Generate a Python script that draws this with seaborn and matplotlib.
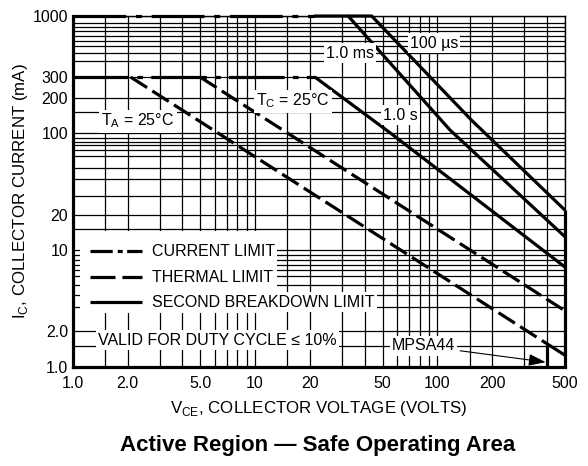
import matplotlib
matplotlib.use("Agg")
import matplotlib.pyplot as plt
import seaborn as sns
import pandas as pd
from matplotlib.patches import Rectangle
from matplotlib.ticker import FixedLocator, FixedFormatter, NullFormatter

sns.set_theme(style="white")
plt.rcParams['font.family'] = ['Liberation Sans', 'DejaVu Sans']
plt.rcParams['mathtext.fontset'] = 'custom'
plt.rcParams['mathtext.rm'] = 'Liberation Sans'
plt.rcParams['lines.scale_dashes'] = False

# ---------------- data ----------------
x_ticks = [1, 2, 5, 10, 20, 50, 100, 200, 500]
x_tick_labels = ["1.0", "2.0", "5.0", "10", "20", "50", "100", "200", "500"]
y_ticks = [1, 2, 10, 20, 100, 200, 300, 1000]
y_tick_labels = ["1.0", "2.0", "10", "20", "100", "200", "300", "1000"]
x_grid = [1.5, 3, 4, 6, 7, 8, 9, 15, 30, 40, 60, 70, 80, 90, 150, 300, 400]
y_grid = [1.5, 3.2, 4.1, 5.0, 5.9, 6.7, 7.4, 8.1, 9.0,
          15, 29, 40, 50, 63, 71, 79, 84, 90,
          150, 410, 480, 550, 610, 670, 740, 810, 880]

current_limit_top_v = [1.0, 21.0]
current_limit_top_i = [1000, 1000]
current_limit_low_v = [1.0, 21.3]
current_limit_low_i = [300, 300]

thermal_ta_v = [2.08, 400]
thermal_ta_i = [300, 1.56]
thermal_ta_tail_v = [400, 500]
thermal_ta_tail_i = [1.56, 1.25]
thermal_tc_v = [5.0, 500]
thermal_tc_i = [300, 3.0]

sb_1s_v = [21.3, 57, 500]
sb_1s_i = [300, 96, 7.1]
sb_1ms_v = [21.0, 32.4, 117, 500]
sb_1ms_i = [1000, 1000, 106, 12.9]
sb_100us_v = [32.4, 43.6, 154, 500]
sb_100us_i = [1000, 1000, 128, 21.8]
mpsa44_v = [400, 400]
mpsa44_i = [1.56, 1.0]
edge_500_v = [500, 500]
edge_500_i = [21.8, 1.0]

# ---------------- figure ----------------
fig = plt.figure(figsize=(5.88, 4.66), dpi=100)
ax = fig.add_axes([0.1236, 0.2135, 0.8372, 0.7521])
ax.set_xscale('log')
ax.set_yscale('log')
ax.set_xlim(1, 500)
ax.set_ylim(1, 1000)
ax.set_facecolor('white')

ax.xaxis.set_major_locator(FixedLocator(x_ticks))
ax.xaxis.set_major_formatter(FixedFormatter(x_tick_labels))
ax.xaxis.set_minor_locator(FixedLocator(x_grid))
ax.xaxis.set_minor_formatter(NullFormatter())
ax.yaxis.set_major_locator(FixedLocator(y_ticks))
ax.yaxis.set_major_formatter(FixedFormatter(y_tick_labels))
ax.yaxis.set_minor_locator(FixedLocator(y_grid))
ax.yaxis.set_minor_formatter(NullFormatter())
ax.tick_params(which='both', length=0)
ax.tick_params(axis='x', pad=6.5, labelsize=11.5, colors='black')
ax.tick_params(axis='y', pad=3.2, labelsize=11.5, colors='black')
ax.set_axisbelow(True)
ax.grid(which='both', color='black', linewidth=0.9)

for side in ['left', 'bottom']:
    ax.spines[side].set_linewidth(2.3)
for side in ['top', 'right']:
    ax.spines[side].set_linewidth(1.0)
for s in ax.spines.values():
    s.set_color('black')

# white background of the legend block
ax.add_patch(Rectangle((0.0148, 0.152), 0.400, 0.236, transform=ax.transAxes,
                       facecolor='white', edgecolor='none', zorder=1))

LW = 2.3
def draw(v, i, style=None, z=3):
    df = pd.DataFrame({'V': v, 'I': i})
    sns.lineplot(data=df, x='V', y='I', ax=ax, color='black', linewidth=LW,
                 estimator=None, sort=False, zorder=z, legend=False)
    ln = ax.lines[-1]
    if style is not None:
        ln.set_linestyle(style)
    ln.set_solid_capstyle('butt')
    ln.set_dash_capstyle('butt')
    ln.set_clip_on(False)

draw(current_limit_top_v, current_limit_top_i, style=(0, (38, 7, 4.3, 7)))
draw(current_limit_low_v, current_limit_low_i, style=(0, (40, 6, 4, 6)))
draw(thermal_ta_v, thermal_ta_i, style=(0, (14, 4.5)))
draw(thermal_ta_tail_v, thermal_ta_tail_i)
draw(thermal_tc_v, thermal_tc_i, style=(0, (14, 4.5)))
draw(sb_1s_v, sb_1s_i)
draw(sb_1ms_v, sb_1ms_i)
draw(sb_100us_v, sb_100us_i)
draw(mpsa44_v, mpsa44_i)
draw(edge_500_v, edge_500_i)

box = dict(facecolor='white', edgecolor='none', pad=1.5)
fs = 11.5

def label(x, y, s, **kw):
    ax.text(x, y, s, fontsize=fs, ha='center', va='center', color='black',
            bbox=box, zorder=5, **kw)

label(2.28, 126, r'T$_\mathregular{A}$ = 25°C')
label(16.1, 187, r'T$_\mathregular{C}$ = 25°C')
label(33, 482, '1.0 ms')
label(95.7, 587, '100 µs')
label(63, 142, '1.0 s')

ax.annotate('MPSA44', xy=(392, 1.09), xytext=(84, 1.5), fontsize=fs,
            ha='center', va='center', color='black', bbox=box, zorder=5,
            arrowprops=dict(arrowstyle='-|>,head_length=0.8,head_width=0.28',
                            color='black', lw=0.8,
                            mutation_scale=13, shrinkA=2, shrinkB=0))

# legend block
rows = [(0.329, 'CURRENT LIMIT', (0, (16, 3.6, 3.6, 3.2))),
        (0.255, 'THERMAL LIMIT', (0, (18, 5))),
        (0.184, 'SECOND BREAKDOWN LIMIT', None)]
for fy, txt, dsh in rows:
    ln, = ax.plot([0.0351, 0.1407], [fy, fy], transform=ax.transAxes,
                  color='black', linewidth=LW, zorder=4)
    ln.set_solid_capstyle('butt')
    ln.set_dash_capstyle('butt')
    if dsh is not None:
        ln.set_linestyle(dsh)
    ax.text(0.161, fy, txt, transform=ax.transAxes, fontsize=fs,
            ha='left', va='center', color='black', bbox=box, zorder=5)
ax.text(0.0514, 0.0756, 'VALID FOR DUTY CYCLE ≤ 10%', transform=ax.transAxes,
        fontsize=fs, ha='left', va='center', color='black', bbox=box, zorder=5)

ax.set_xlabel(r'V$_\mathregular{CE}$, COLLECTOR VOLTAGE (VOLTS)', fontsize=12.2,
              color='black')
ax.set_ylabel(r'I$_\mathregular{C}$, COLLECTOR CURRENT (mA)', fontsize=12.2,
              color='black')
ax.xaxis.set_label_coords(0.5, -0.092)
ax.yaxis.set_label_coords(-0.087, 0.5)

fig.text(0.541, 1 - 445 / 466, 'Active Region — Safe Operating Area',
         ha='center', va='center', fontsize=16, fontweight='bold', color='black')

fig.savefig('out.png', dpi=100, facecolor='white')
